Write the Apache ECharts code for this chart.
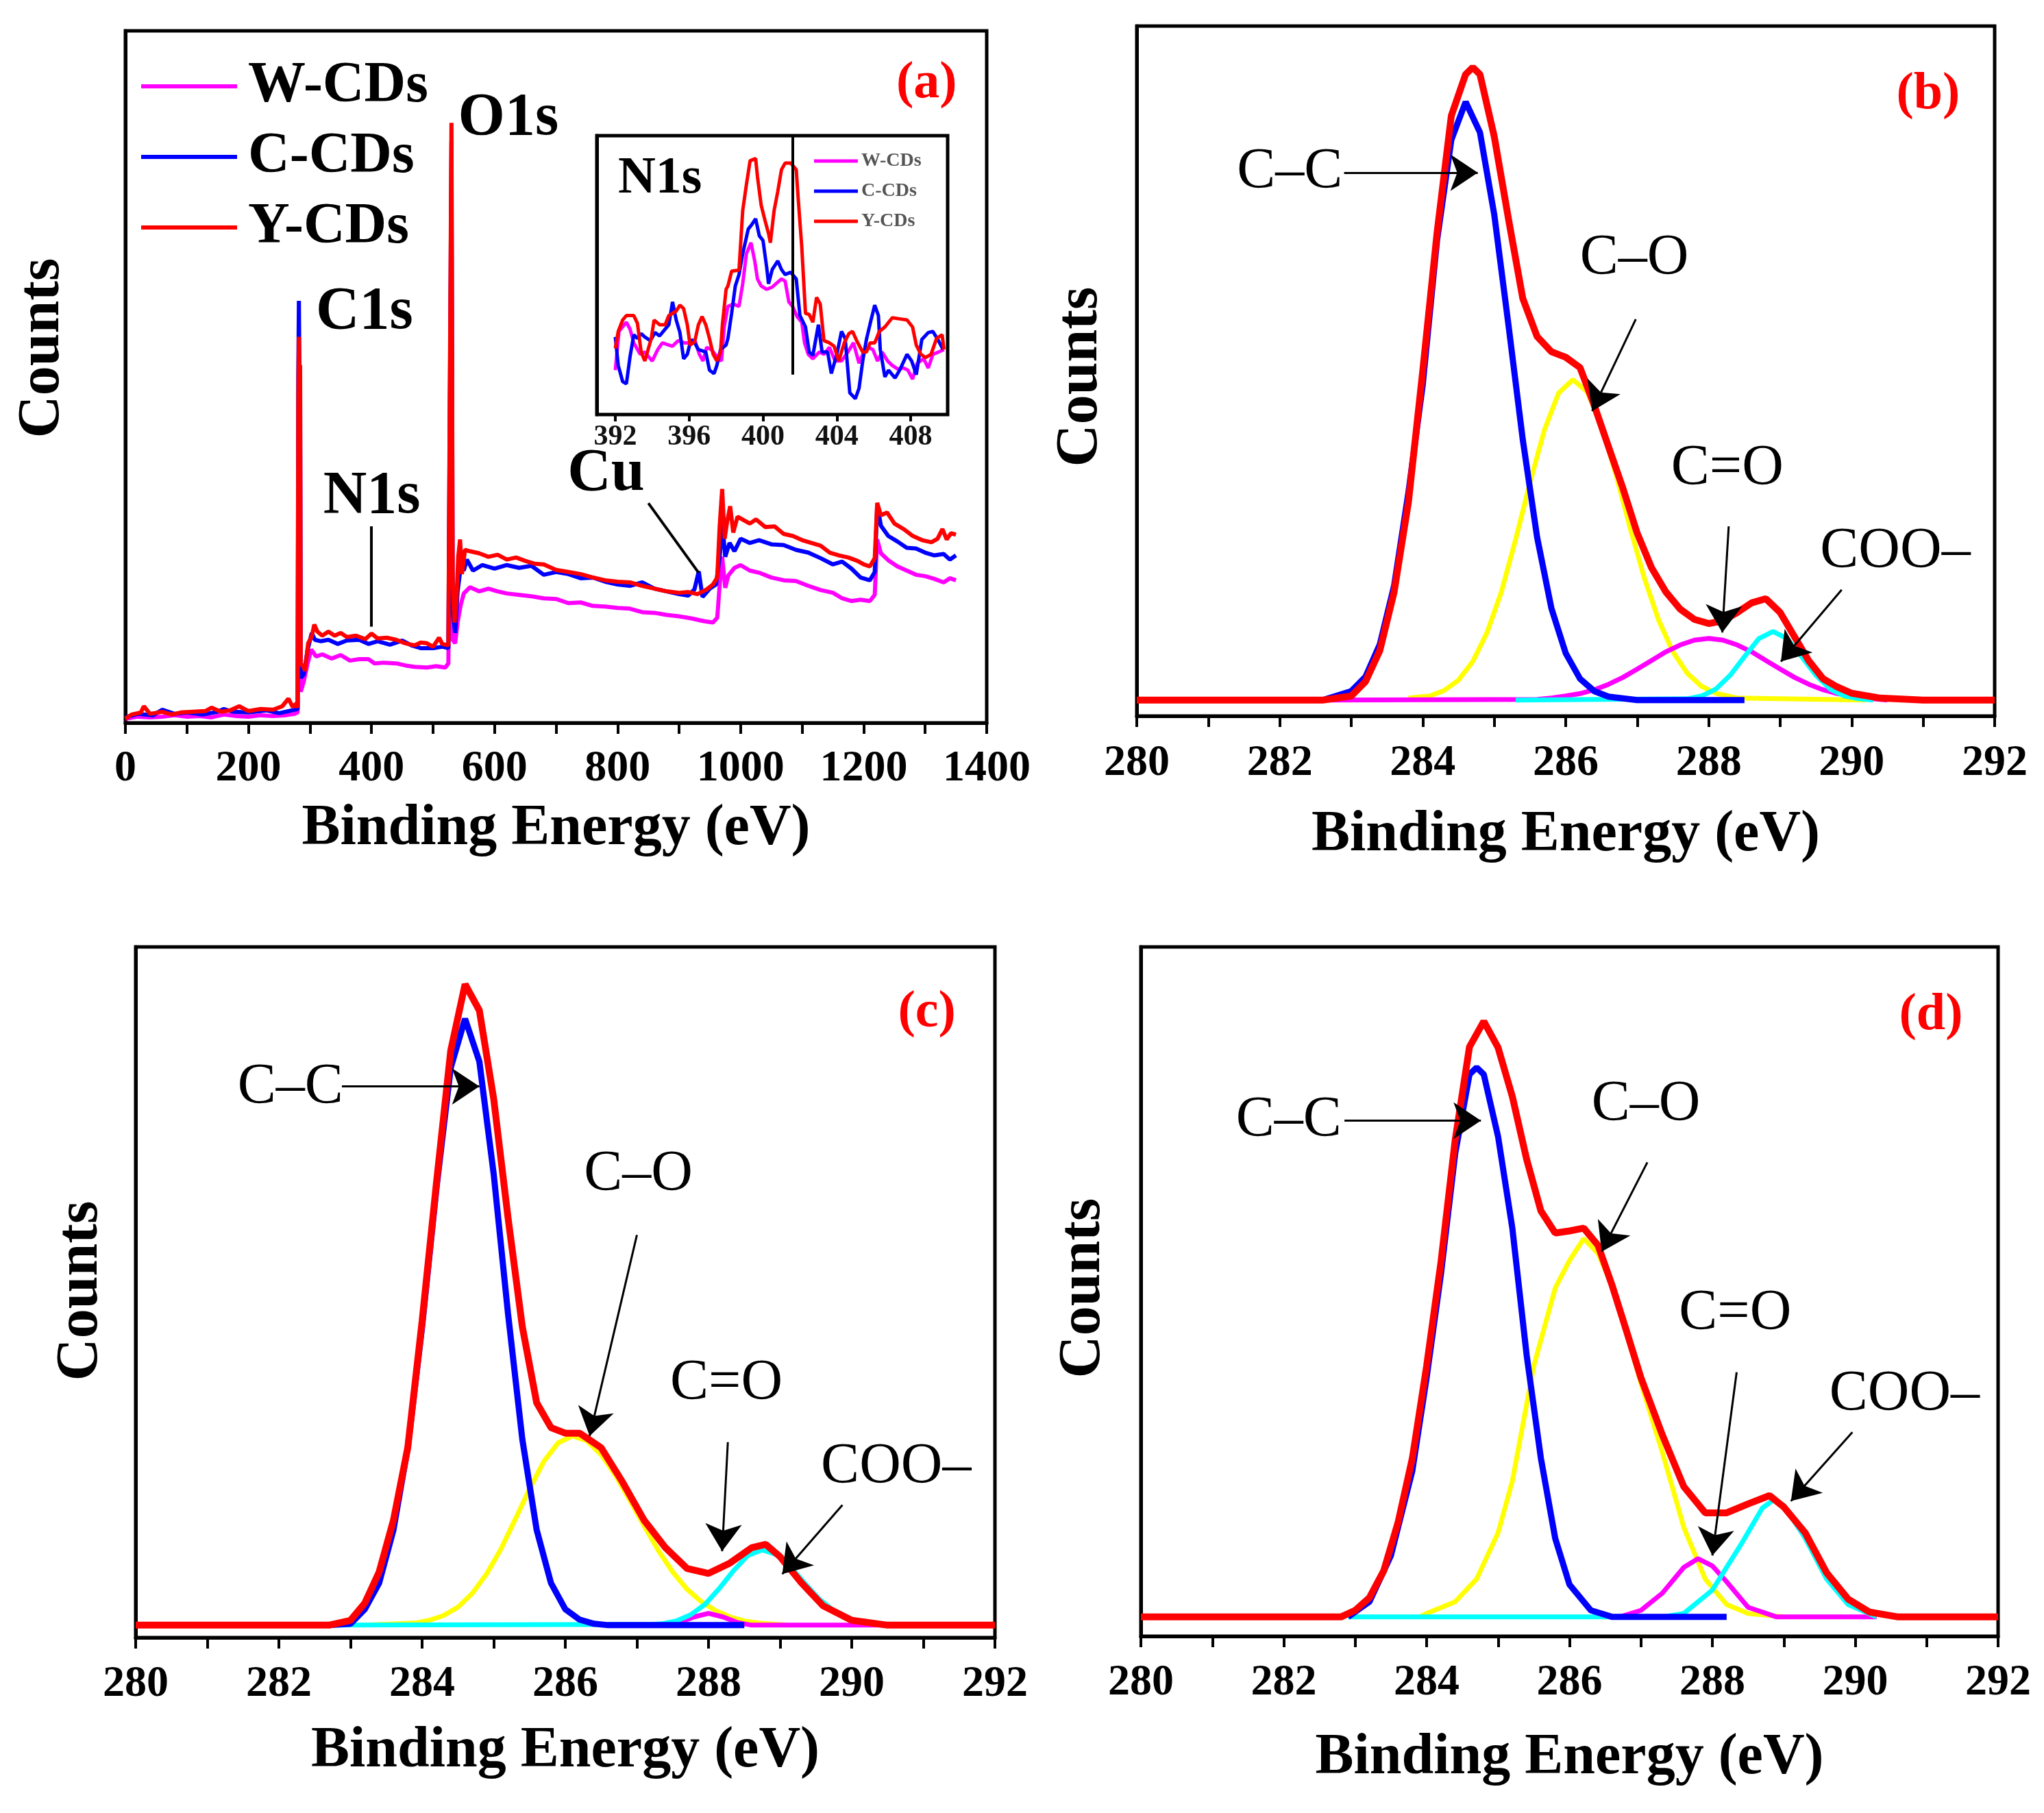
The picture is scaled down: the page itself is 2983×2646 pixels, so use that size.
<!DOCTYPE html>
<html>
<head>
<meta charset="utf-8">
<script src="https://cdn.jsdelivr.net/npm/echarts@6.0.0/dist/echarts.min.js"></script>
<style>
html, body { margin: 0; padding: 0; background: #fff; }
#chart { width: 2983px; height: 2646px; }
</style>
</head>
<body>
<div id="chart"></div>
<script>
// ---- (a) survey spectra, [binding energy, counts (a.u.)] ----
const surveyW = [[0,0.6],[20,0.9],[40,0.8],[60,0.9],[80,1.1],[100,0.9],[120,1.0],[140,0.8],[160,1.2],[180,1.0],[200,0.9],[220,1.1],[240,1.0],[260,1.1],[275,1.3],[280,1.5],[281,40],[282,48],[283,40],[284,42],[285,4.5],[290,6.0],[296,8.5],[302,10.6],[310,9.6],[320,9.9],[335,9.3],[350,9.8],[365,9.0],[380,9.2],[395,9.2],[405,8.6],[420,8.7],[440,8.6],[455,8.3],[470,8.1],[490,8.0],[505,8.2],[520,8.0],[525,8.6],[527,36],[530,78],[532,12],[536,11.5],[540,14.5],[545,17.0],[550,18.7],[560,19.6],[575,19.0],[590,19.4],[605,19.0],[620,18.7],[640,18.5],[660,18.3],[680,18.0],[700,17.9],[720,17.3],[740,17.4],[760,16.9],[780,16.8],[800,16.6],[820,16.5],[840,16.0],[860,15.9],[880,15.6],[900,15.4],[920,15.1],[940,14.7],[955,14.5],[962,15.2],[966,20],[970,24.0],[975,19.5],[980,21.3],[990,22.4],[1000,22.8],[1015,22.0],[1030,21.7],[1050,21.0],[1070,20.6],[1090,20.5],[1110,19.8],[1130,19.2],[1150,18.8],[1165,18.0],[1180,17.6],[1195,17.8],[1210,17.6],[1218,18.5],[1222,26.5],[1228,24.5],[1240,23.5],[1255,22.6],[1270,22.0],[1285,21.4],[1300,21.2],[1315,20.8],[1330,20.3],[1340,20.9],[1350,20.6]];
const surveyC = [[0,0.8],[20,1.3],[45,1.1],[60,1.9],[80,1.3],[100,1.5],[125,1.2],[150,1.6],[160,2.0],[175,1.6],[200,1.5],[230,1.8],[250,1.4],[265,1.7],[275,1.9],[280,2.0],[281,50],[282,61],[283,49],[284,50],[285,6.5],[290,7.0],[296,10.5],[303,13.0],[308,12.0],[318,11.8],[330,12.0],[345,11.4],[360,11.9],[380,12.0],[395,11.4],[410,11.8],[430,11.3],[450,11.9],[465,11.2],[480,10.8],[500,10.8],[515,11.0],[525,10.8],[527,40],[530,84],[532,16],[536,13],[540,19],[545,22.5],[550,22.0],[555,23.6],[565,22.0],[580,22.8],[600,22.3],[620,22.8],[640,22.4],[660,22.7],[680,21.4],[700,21.8],[720,21.5],[740,20.9],[760,21.0],[780,20.4],[800,20.0],[820,19.8],[840,20.3],[860,19.4],[880,19.0],[900,18.6],[915,18.4],[925,19.3],[932,21.9],[938,18.2],[950,19.4],[960,20.0],[966,24.0],[970,29.0],[975,24.0],[982,26.0],[990,24.8],[1000,26.6],[1015,26.0],[1030,26.4],[1050,25.8],[1070,25.7],[1090,25.0],[1110,24.6],[1130,23.8],[1150,22.9],[1165,23.3],[1180,22.3],[1195,21.0],[1210,20.6],[1218,21.8],[1222,31.5],[1228,28.5],[1240,27.0],[1255,26.2],[1270,25.3],[1285,25.2],[1300,24.6],[1315,24.2],[1330,24.4],[1340,23.6],[1350,24.2]];
const surveyY = [[0,0.6],[10,1.2],[25,1.5],[30,2.4],[40,1.3],[60,1.6],[75,1.2],[90,1.5],[110,1.6],[130,1.7],[140,2.2],[155,1.6],[170,1.8],[185,2.4],[200,1.7],[220,2.0],[240,1.9],[255,2.4],[265,3.5],[272,2.3],[278,2.8],[280,2.2],[281,45],[282,55.8],[283,49],[284,51.7],[285,8.5],[289,8.2],[292,7.5],[297,11.5],[303,12.5],[307,14.2],[312,13.2],[320,12.6],[330,13.2],[340,12.6],[350,13.0],[360,12.4],[375,12.6],[390,12.1],[400,12.9],[410,12.2],[425,12.3],[440,12.0],[455,11.5],[470,11.2],[480,11.6],[490,11.5],[500,11.0],[510,12.3],[515,11.4],[525,11.2],[527,43],[529,43],[530,86.7],[532,20],[535,14.5],[538,17.5],[541,24],[544,26.5],[547,21.5],[552,25],[560,24.8],[575,24.5],[590,24.0],[605,24.3],[620,23.6],[635,23.9],[650,23.4],[665,23.0],[680,22.9],[700,22.1],[720,21.8],[740,21.5],[760,21.0],[780,20.6],[800,20.4],[820,20.3],[840,19.8],[860,19.4],[880,19.0],[900,18.8],[915,18.9],[930,18.6],[945,19.3],[955,20.0],[962,21.0],[966,28.5],[970,33.8],[974,26.6],[978,29],[983,31.3],[988,27.5],[995,29.8],[1005,29.3],[1015,28.8],[1025,29.4],[1040,28.3],[1055,28.4],[1070,27.3],[1085,27.0],[1100,26.4],[1115,26.0],[1130,25.6],[1145,24.6],[1160,24.2],[1175,23.9],[1190,23.4],[1200,22.9],[1210,22.6],[1218,23.8],[1222,31.8],[1228,30.0],[1238,30.4],[1250,28.8],[1265,28.0],[1280,27.0],[1295,26.4],[1310,26.1],[1320,26.6],[1328,28.0],[1335,26.5],[1342,27.4],[1350,27.2]];

// ---- inset: N1s region ----
const insetW = [[392.0,15.9],[392.2,29.8],[392.6,33.1],[392.8,30.6],[393.0,25.7],[393.35,21.6],[393.6,22.4],[394.0,19.2],[394.3,23.3],[394.55,25.7],[394.9,24.9],[395.1,24.5],[395.4,26.5],[395.75,25.7],[396.0,25.7],[396.3,26.9],[396.55,21.6],[396.75,19.2],[396.95,24.1],[397.2,23.3],[397.5,20.8],[397.75,19.2],[397.9,31.4],[398.1,38.8],[398.4,39.6],[398.7,38.8],[398.9,46.9],[399.1,57.6],[399.35,61.6],[399.55,55.1],[399.7,48.6],[399.9,46.1],[400.2,44.9],[400.5,45.7],[400.7,46.9],[401.0,48.6],[401.2,47.8],[401.4,40.4],[401.6,38.8],[401.85,35.1],[402.1,33.1],[402.25,25.7],[402.45,21.6],[402.7,20.0],[403.05,22.4],[403.3,21.6],[403.6,24.1],[403.9,19.2],[404.25,19.2],[404.6,22.4],[404.9,25.7],[405.2,18.4],[405.45,22.4],[405.7,24.1],[405.95,23.3],[406.2,19.2],[406.45,22.4],[406.75,19.2],[407.0,17.6],[407.3,16.3],[407.6,16.7],[407.85,15.9],[408.1,12.7],[408.35,18.4],[408.7,20.0],[408.95,16.7],[409.2,21.6],[409.5,22.4],[409.8,23.3]];
const insetC = [[392.0,27.8],[392.16,17.6],[392.4,11.8],[392.6,11.0],[392.8,20.8],[393.0,28.6],[393.2,27.3],[393.4,29.0],[393.6,27.8],[393.9,26.5],[394.15,29.4],[394.4,28.2],[394.6,29.8],[394.9,32.2],[395.1,40.4],[395.3,33.9],[395.5,29.4],[395.7,20.0],[395.9,21.6],[396.1,26.9],[396.3,25.7],[396.5,23.3],[396.7,22.9],[396.9,22.4],[397.1,15.9],[397.35,14.7],[397.5,17.6],[397.7,23.3],[398.0,24.9],[398.1,27.3],[398.3,36.3],[398.5,46.1],[398.7,50.2],[398.9,57.6],[399.2,66.5],[399.4,68.2],[399.6,70.2],[399.8,64.1],[400.0,62.4],[400.2,52.7],[400.3,46.9],[400.5,52.0],[400.8,55.1],[401.0,52.0],[401.2,50.2],[401.5,51.0],[401.8,48.6],[401.9,42.0],[402.0,35.5],[402.3,31.4],[402.5,22.4],[402.7,21.2],[403.0,32.2],[403.2,22.4],[403.5,22.4],[403.7,14.7],[404.0,21.6],[404.25,29.8],[404.45,27.3],[404.7,7.8],[405.0,5.7],[405.2,9.4],[405.4,19.2],[405.6,26.9],[405.85,33.9],[406.05,39.2],[406.25,35.5],[406.35,23.3],[406.6,13.5],[406.8,15.9],[407.15,13.1],[407.4,15.9],[407.8,21.6],[408.05,19.2],[408.3,14.3],[408.6,26.9],[408.95,29.4],[409.2,29.8],[409.5,26.5],[409.75,23.3]];
const insetY = [[392.0,23.7],[392.16,29.8],[392.4,33.9],[392.6,35.5],[393.0,35.5],[393.2,32.7],[393.4,22.4],[393.6,19.2],[393.95,27.3],[394.1,33.9],[394.4,32.2],[394.7,32.2],[394.9,35.5],[395.3,37.1],[395.5,39.2],[395.7,38.0],[395.9,32.2],[396.05,24.9],[396.3,26.1],[396.5,32.2],[396.7,35.1],[396.9,32.2],[397.1,27.3],[397.3,21.6],[397.5,19.2],[397.7,22.4],[397.8,32.2],[398.0,44.9],[398.1,46.1],[398.3,51.4],[398.7,51.8],[398.9,73.1],[399.1,82.4],[399.3,91.0],[399.6,91.8],[399.7,85.3],[399.9,75.1],[400.1,69.8],[400.3,64.9],[400.4,61.6],[400.6,73.1],[400.8,80.0],[401.0,87.8],[401.2,90.2],[401.5,90.2],[401.8,87.8],[401.9,78.0],[402.1,60.0],[402.3,36.3],[402.5,35.9],[402.7,33.1],[402.9,42.0],[403.1,39.6],[403.3,26.5],[403.6,25.7],[403.85,24.5],[404.1,19.2],[404.4,25.7],[404.65,29.0],[404.85,29.8],[405.1,26.1],[405.4,22.4],[405.6,22.4],[405.8,25.7],[406.05,25.7],[406.3,29.8],[406.6,31.4],[407.0,34.7],[407.4,34.3],[407.8,33.9],[408.1,31.4],[408.3,24.9],[408.55,21.6],[408.8,20.4],[409.1,21.6],[409.4,27.3],[409.7,28.6],[409.8,23.3]];

// ---- (b) C1s fit ----
const fitBTotal = [[280,2.3],[282.6,2.3],[283.0,2.9],[283.2,5.0],[283.4,9.5],[283.6,18],[283.8,31],[284.0,50],[284.2,70],[284.4,87],[284.6,93],[284.7,94],[284.8,93],[285.0,84],[285.2,72],[285.4,60.5],[285.6,55],[285.8,52.8],[286.0,52],[286.2,50.5],[286.4,45],[286.6,39],[286.8,33],[287.0,26.5],[287.2,21.5],[287.4,18],[287.6,15.5],[287.8,14],[288.0,13.4],[288.2,13.8],[288.4,15],[288.6,16.4],[288.8,17],[289.0,15],[289.2,11.5],[289.4,8],[289.6,5.4],[289.8,4.2],[290.0,3.3],[290.4,2.6],[291,2.3],[292,2.3]];
const fitBCC = [[282.6,2.3],[283.0,3.6],[283.2,5.7],[283.4,10.4],[283.6,18.9],[283.8,32.4],[284.0,48],[284.2,68.9],[284.4,83.5],[284.6,89],[284.8,84.6],[285.0,72.7],[285.2,56.6],[285.4,40.0],[285.6,25.9],[285.8,15.6],[286.0,9.1],[286.2,5.4],[286.4,3.6],[286.6,2.8],[287.0,2.3],[288.5,2.3]];
const fitBCO = [[283.8,2.6],[284.1,2.9],[284.3,3.7],[284.5,5.2],[284.7,7.9],[284.9,12.1],[285.1,18.0],[285.3,25.6],[285.5,33.8],[285.7,41.4],[285.9,46.8],[286.1,48.75],[286.3,47.0],[286.5,42.1],[286.7,35.1],[286.9,27.3],[287.1,20.0],[287.3,13.9],[287.5,9.3],[287.7,6.2],[287.9,4.3],[288.1,3.3],[288.4,2.6],[290.2,2.3]];
const fitBCdO = [[282.6,2.3],[285.6,2.4],[285.8,2.6],[286.0,2.9],[286.2,3.25],[286.4,3.8],[286.6,4.6],[286.8,5.6],[287.0,6.8],[287.2,8.05],[287.4,9.3],[287.6,10.3],[287.8,11.0],[288.0,11.25],[288.2,11.0],[288.4,10.3],[288.6,9.3],[288.8,8.05],[289.0,6.8],[289.2,5.6],[289.4,4.6],[289.6,3.8],[289.8,3.25],[290.0,2.9],[290.2,2.6],[290.5,2.3]];
const fitBCOO = [[285.3,2.3],[287.7,2.5],[287.9,2.9],[288.1,3.9],[288.3,5.9],[288.5,8.6],[288.7,11.2],[288.9,12.25],[289.1,11.2],[289.3,8.6],[289.5,5.9],[289.7,3.9],[289.9,2.9],[290.1,2.5],[290.3,2.3]];

// ---- (c) C1s fit ----
const fitCTotal = [[280,1.8],[282.7,1.8],[283.0,2.5],[283.2,5.0],[283.4,9.5],[283.6,17],[283.8,27.5],[284.0,45.8],[284.2,65.8],[284.4,85],[284.6,94.6],[284.8,90.8],[285.0,78],[285.2,60.8],[285.4,45],[285.6,34],[285.8,30.4],[286.0,29.6],[286.2,29.6],[286.5,27.5],[286.8,22.5],[287.1,17],[287.4,13],[287.7,10],[288.0,9.3],[288.3,10.8],[288.6,13],[288.8,13.5],[289.0,11.7],[289.3,7.9],[289.6,4.6],[290.0,2.5],[290.5,1.8],[292,1.8]];
const fitCCC = [[282.7,1.8],[283.0,2.0],[283.2,4.1],[283.4,7.9],[283.6,15.6],[283.8,27.5],[284.0,45.0],[284.2,65.0],[284.4,82.5],[284.6,89.6],[284.8,83.4],[285.0,67.1],[285.2,46.9],[285.4,28.7],[285.6,15.6],[285.8,7.9],[286.0,4.1],[286.2,2.6],[286.4,2.0],[286.6,1.8],[288.5,1.8]];
const fitCCO = [[283.2,1.8],[283.9,2.1],[284.1,2.5],[284.3,3.2],[284.5,4.4],[284.7,6.4],[284.9,9.2],[285.1,12.8],[285.3,17.1],[285.5,21.5],[285.7,25.5],[285.9,28.2],[286.1,29.2],[286.3,28.5],[286.5,26.5],[286.7,23.5],[286.9,19.9],[287.1,16.2],[287.3,12.6],[287.5,9.5],[287.7,7.0],[287.9,5.2],[288.1,3.9],[288.3,3.0],[288.5,2.4],[288.7,2.1],[289.1,1.8]];
const fitCCdO = [[287.4,1.8],[287.6,2.2],[287.8,3.0],[288.0,3.5],[288.2,3.0],[288.4,2.2],[288.6,1.8],[290.6,1.8]];
const fitCCOO = [[282.7,1.8],[287.2,1.9],[287.35,2.0],[287.55,2.4],[287.75,3.3],[287.95,4.8],[288.15,7.1],[288.35,9.7],[288.55,11.9],[288.75,12.7],[288.95,12.0],[289.15,10.2],[289.35,7.8],[289.55,5.55],[289.75,3.9],[289.95,2.8],[290.15,2.2],[290.35,1.9],[290.6,1.8]];

// ---- (d) C1s fit ----
const fitDTotal = [[280,2.8],[282.8,2.8],[283.0,3.75],[283.2,5.6],[283.4,9.5],[283.6,16.5],[283.8,25.8],[284.0,39.2],[284.2,54.2],[284.4,72],[284.6,85.5],[284.8,89.2],[285.0,85.4],[285.2,78.3],[285.4,69.2],[285.6,61.7],[285.8,58.5],[286.0,58.8],[286.2,59.2],[286.4,56.7],[286.6,50.8],[286.8,44.2],[287.0,37.5],[287.3,29.2],[287.6,21.7],[287.9,17.9],[288.2,17.9],[288.5,19.2],[288.8,20.4],[289.0,18.75],[289.3,15],[289.6,9.2],[289.9,5.4],[290.2,3.5],[290.6,2.8],[292,2.8]];
const fitDCC = [[282.9,2.8],[283.2,5],[283.5,11.7],[283.8,24],[284.0,37.5],[284.2,52.5],[284.4,70],[284.6,81.5],[284.7,82.5],[284.8,81.5],[285.0,72.5],[285.2,59.2],[285.4,40.8],[285.6,25.8],[285.8,14.2],[286.0,7.5],[286.3,3.75],[286.6,2.8],[288.2,2.8]];
const fitDCO = [[283.9,2.8],[284.0,3.3],[284.4,5],[284.7,8.3],[285.0,15],[285.2,22.5],[285.5,39.2],[285.8,50.5],[286.0,54.5],[286.2,57.7],[286.4,55.5],[286.6,50.8],[286.8,44],[287.0,36.7],[287.3,26.7],[287.6,15.8],[287.9,8.3],[288.2,4.6],[288.5,3.3],[289.0,2.8]];
const fitDCdO = [[286.7,2.8],[287.0,3.75],[287.3,6.25],[287.6,10.0],[287.8,11.25],[288.0,10.2],[288.2,7.9],[288.5,4.2],[288.9,2.8],[290.3,2.8]];
const fitDCOO = [[282.9,2.8],[287.3,2.8],[287.6,3.3],[288.0,6.7],[288.4,13.3],[288.7,18.6],[288.85,19.75],[289.0,19.0],[289.3,14.2],[289.6,8.3],[289.9,4.6],[290.3,2.8]];

// ---- annotations (data coordinates) ----
const labelsA = [['C1s',388.6,59.3],['O1s',622.4,87.3],['N1s',400.5,32.6],['Cu',781.2,35.9]];
const linesA = [[400,28.4,400,13.9],[850.1,31.75,931.7,21.7]];
const labelsB = [['C–C',282.14,78.75],['C–O',286.96,66.25],['C=O',288.26,35.8],['COO–',290.61,23.75]];
const arrowsB = [[282.9,78.75,284.77,78.75],[286.98,57.5,286.37,44.2],[288.28,27.5,288.19,12.1],[289.86,18.3,289.01,7.9]];
const labelsC = [['C–C',282.16,79.6],['C–O',287.02,67],['C=O',288.25,36.7],['COO–',290.62,24.6]];
const arrowsC = [[282.88,79.8,284.8,79.8],[287.0,58.3,286.34,29.2],[288.27,28.3,288.19,12.5],[289.87,19.2,289.03,9.2]];
const labelsD = [['C–C',282.07,74.8],['C–O',287.07,77],['C=O',288.32,46.7],['COO–',290.69,35]];
const arrowsD = [[282.85,74.8,284.76,74.8],[287.09,68.75,286.45,55.8],[288.34,38.3,288.0,11.7],[289.96,29.6,289.1,19.6]];
const panelTags = [['(a)',1302.3,92.3],['(b)',291.07,90],['(c)',291.05,90.4],['(d)',291.06,90]];
const insetTag = ['N1s',394.42,84.5];
const insetMark = [401.62,100,401.62,14.3];
const insetTicks = [392,396,400,404,408];

const SERIF = '"Liberation Serif", "Times New Roman", serif';
const names = ['W-CDs','C-CDs','Y-CDs'];

const chart = echarts.init(document.getElementById('chart'));

const grids = [
  {left: 183, top: 45, width: 1257, height: 1010},
  {left: 1659, top: 38, width: 1252, height: 1007},
  {left: 198, top: 1382, width: 1254, height: 1008},
  {left: 1665, top: 1382, width: 1251, height: 1006},
  {left: 871, top: 198, width: 512, height: 407}
].map(g => Object.assign(g, {show: true, borderColor: '#000', borderWidth: 5, backgroundColor: '#fff', containLabel: false}));

function xAx(i, min, max, interval, nameGap, margin) {
  return {
    type: 'value', gridIndex: i, min, max, interval,
    name: 'Binding Energy (eV)', nameLocation: 'middle', nameGap,
    nameTextStyle: {fontFamily: SERIF, fontWeight: 'bold', fontSize: 84, color: '#000'},
    axisLine: {show: true, onZero: false, lineStyle: {color: '#000', width: 5}},
    axisTick: {show: true, inside: false, length: 16, lineStyle: {color: '#000', width: 4}},
    minorTick: {show: true, splitNumber: 2, length: 16, lineStyle: {color: '#000', width: 4}},
    axisLabel: {fontFamily: SERIF, fontWeight: 'bold', fontSize: 64, color: '#000', margin, formatter: v => String(v)},
    splitLine: {show: false}
  };
}
function yAx(i) {
  return {type: 'value', gridIndex: i, min: 0, max: 100,
    axisLine: {show: true, lineStyle: {color: '#000', width: 5}},
    axisTick: {show: false}, axisLabel: {show: false}, splitLine: {show: false}};
}

const xAxes = [
  xAx(0, 0, 1400, 200, 113, 35),
  xAx(1, 280, 292, 2, 132, 37),
  xAx(2, 280, 292, 2, 124, 36),
  xAx(3, 280, 292, 2, 136, 36),
  {type: 'value', gridIndex: 4, min: 391, max: 410,
    axisLine: {show: true, onZero: false, lineStyle: {color: '#000', width: 4}},
    axisTick: {show: true, length: 10, customValues: insetTicks, lineStyle: {color: '#000', width: 4}},
    axisLabel: {customValues: insetTicks, fontFamily: SERIF, fontWeight: 'bold', fontSize: 42, color: '#111', margin: 12},
    splitLine: {show: false}}
];
const yAxes = [0, 1, 2, 3, 4].map(yAx);

function line(name, data, color, width, idx) {
  return {type: 'line', name, data, xAxisIndex: idx, yAxisIndex: idx,
    symbol: 'none', showSymbol: false, silent: true, animation: false,
    lineStyle: {color, width}, itemStyle: {color}};
}
function textMarks(list, font) {
  return list.map(([t, x, y]) => ({name: t, coord: [x, y],
    label: Object.assign({show: true, position: 'inside', formatter: t, color: '#000', fontFamily: SERIF}, font)}));
}
function marks(series, labels, font, lines, arrow) {
  series.markPoint = {symbol: 'rect', symbolSize: 1, itemStyle: {color: 'rgba(0,0,0,0)'}, silent: true, animation: false,
    data: textMarks(labels, font)};
  series.markLine = {silent: true, animation: false,
    symbol: arrow ? ['none', 'arrow'] : ['none', 'none'], symbolSize: arrow ? 40 : 0,
    itemStyle: {color: '#000'},
    label: {show: false}, emphasis: {disabled: true}, lineStyle: {color: '#000', width: arrow ? 3 : 4, type: 'solid'},
    data: lines.map(([x1, y1, x2, y2]) => [{coord: [x1, y1]}, {coord: [x2, y2]}])};
  return series;
}
function tag(t) {
  return {name: t[0], coord: [t[1], t[2]], label: {show: true, position: 'inside', formatter: t[0], color: '#ff0000', fontFamily: SERIF, fontWeight: 'bold', fontSize: 76}};
}

const fitFont = {fontSize: 84, fontWeight: 'normal'};
function fitPanel(idx, total, cc, co, cdo, coo, labels, arrows, t) {
  const top = marks(line('Fit total ' + idx, total, '#ff0000', 10, idx), labels, fitFont, arrows, true);
  top.markPoint.data.push(tag(t));
  return [
    line('C–O ' + idx, co, '#ffff00', 7, idx),
    line('C=O ' + idx, cdo, '#ff00ff', 7, idx),
    line('COO ' + idx, coo, '#00ffff', 7, idx),
    line('C–C ' + idx, cc, '#0000ff', 9, idx),
    top
  ];
}

const surveyTop = marks(line(names[2], surveyY, '#ff0000', 6, 0), labelsA, {fontSize: 88, fontWeight: 'bold'}, linesA, false);
surveyTop.markPoint.data.push(tag(panelTags[0]));

const insetTop = marks(line(names[2], insetY, '#ff0000', 5, 4), [insetTag], {fontSize: 76, fontWeight: 'bold'}, [insetMark], false);

const series = [
  line(names[0], surveyW, '#ff00ff', 6, 0),
  line(names[1], surveyC, '#0000ff', 6, 0),
  surveyTop,
  line(names[0], insetW, '#ff00ff', 5, 4),
  line(names[1], insetC, '#0000ff', 5, 4),
  insetTop
].concat(
  fitPanel(1, fitBTotal, fitBCC, fitBCO, fitBCdO, fitBCOO, labelsB, arrowsB, panelTags[1]),
  fitPanel(2, fitCTotal, fitCCC, fitCCO, fitCCdO, fitCCOO, labelsC, arrowsC, panelTags[2]),
  fitPanel(3, fitDTotal, fitDCC, fitDCO, fitDCdO, fitDCOO, labelsD, arrowsD, panelTags[3])
);

const countsPos = [[63, 508], [1578, 550], [119, 1884], [1582, 1880]];

chart.setOption({
  backgroundColor: '#fff',
  animation: false,
  grid: grids,
  xAxis: xAxes,
  yAxis: yAxes,
  legend: [
    {data: names, orient: 'vertical', left: 201, top: 79, icon: 'rect', itemWidth: 140, itemHeight: 6, itemGap: 19,
      selectedMode: false,
      textStyle: {fontFamily: SERIF, fontWeight: 'bold', fontSize: 84, lineHeight: 84, color: '#000', padding: [0, 0, 0, 11]}},
    {data: names, orient: 'vertical', left: 1183, top: 216, icon: 'rect', itemWidth: 64, itemHeight: 5, itemGap: 16,
      selectedMode: false,
      textStyle: {fontFamily: SERIF, fontWeight: 'bold', fontSize: 28, lineHeight: 28, color: '#555'}}
  ],
  graphic: countsPos.map(([x, y]) => ({type: 'text', x, y, rotation: Math.PI / 2, silent: true,
    style: {text: 'Counts', fontFamily: SERIF, fontWeight: 'bold', fontSize: 86, fill: '#000', align: 'center', verticalAlign: 'middle'}})),
  series
});
</script>
</body>
</html>
